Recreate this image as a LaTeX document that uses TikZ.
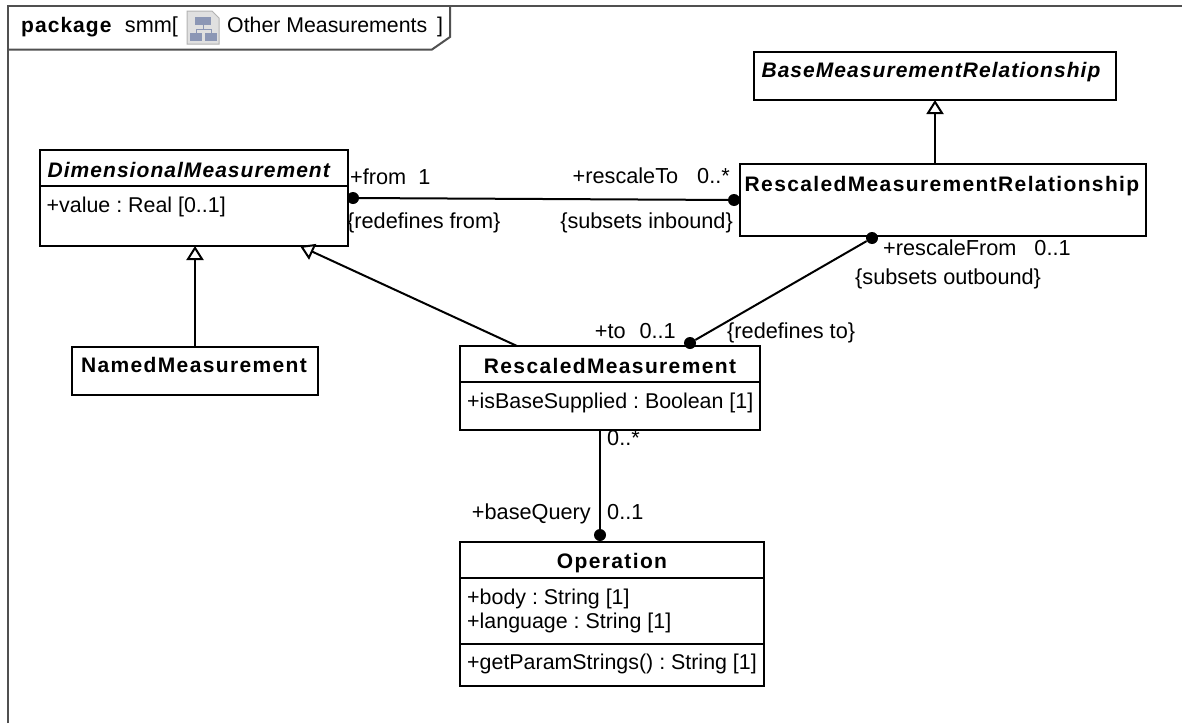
\documentclass[tikz,border=0pt]{standalone}
\usepackage{fontspec}
\setmainfont{Liberation Sans}
\newfontfamily\namefont[LetterSpace=6.5]{Liberation Sans}
\newfontfamily\absnamefont[LetterSpace=5]{Liberation Sans}
\usetikzlibrary{positioning,arrows.meta}
\frenchspacing

\definecolor{framegray}{HTML}{505050}
\definecolor{iconblue}{HTML}{8C97B5}

\tikzset{
  classbox/.style={draw, line width=2pt, inner sep=0pt, outer sep=0pt, fill=white},
  classname/.style={inner sep=0pt, text height=15pt, text depth=5pt, font=\fontsize{21}{24}\namefont\bfseries},
  absname/.style={classname, font=\fontsize{21}{24}\absnamefont\bfseries\itshape},
  membertext/.style={inner sep=0pt, align=left, font=\fontsize{21.4}{24}\selectfont},
  rolelabel/.style={inner sep=0pt, text height=15pt, text depth=5pt, font=\fontsize{21.7}{24}\selectfont},
  assocdot/.style={circle, fill=black, minimum size=12pt, inner sep=0pt},
  assocline/.style={line width=2pt},
  genline/.style={line width=2pt, -{Triangle[open, length=14pt, width=17pt, fill=white]}}
}

\begin{document}
\begin{tikzpicture}[x=1pt, y=-1pt]
  \useasboundingbox (0,0) rectangle (1182,723);

  % frame and tab
  \draw[framegray, line width=2pt] (8,723) -- (8,6) -- (1182,6);
  \draw[framegray, line width=2pt] (8,49.5) -- (432,49.5) -- (450,37) -- (450,6);
  \node[classname, anchor=west, font=\fontsize{21}{24}\absnamefont\bfseries] (Kind) at (21,27.5) {package};
  \node[rolelabel, right=13pt of Kind] (Smm) {smm[};
  \node[rolelabel, anchor=west, font=\fontsize{21.3}{24}\selectfont] (Title) at (227,27.5) {Other Measurements\hspace{10pt}]};

  % diagram icon
  \draw[fill=black!12, draw=black!30, line width=1pt] (187,11) -- (212,11) -- (219,18) -- (219,44) -- (187,44) -- cycle;
  \fill[iconblue] (195,17) rectangle (211,25);
  \fill[iconblue] (190,33) rectangle (202,41);
  \fill[iconblue] (205,33) rectangle (217,41);
  \draw[iconblue, line width=1pt] (203,25) -- (203,29) (196,33) -- (196,29) -- (211,29) -- (211,33);

  % classes
  \node[classbox, minimum width=362pt, minimum height=48pt, anchor=north west] (Base) at (754,52) {};
  \node[absname, below=10pt of Base.north, xshift=-4pt] (BaseName) {BaseMeasurementRelationship};

  \node[classbox, minimum width=406pt, minimum height=72pt, anchor=north west] (Rel) at (740,164) {};
  \node[classname, below=12pt of Rel.north, xshift=-1pt] (RelName) {RescaledMeasurementRelationship};

  \node[classbox, minimum width=308.5pt, minimum height=36pt, anchor=north west] (DimHead) at (39.5,150) {};
  \node[classbox, minimum width=308.5pt, minimum height=60pt, below=0pt of DimHead] (DimBody) {};
  \node[absname, below=12pt of DimHead.north, xshift=-5pt] (DimName) {DimensionalMeasurement};
  \node[membertext, below right=11pt and 7pt of DimBody.north west] (DimAttr) {+value : Real [0..1]};

  \node[classbox, minimum width=246pt, minimum height=48pt, anchor=north west] (Named) at (72,346.5) {};
  \node[classname, below=10.5pt of Named.north, xshift=-1pt] (NamedName) {NamedMeasurement};

  \node[classbox, minimum width=300pt, minimum height=36pt, anchor=north west] (ResHead) at (460,346) {};
  \node[classbox, minimum width=300pt, minimum height=48pt, below=0pt of ResHead] (ResBody) {};
  \node[classname, below=12pt of ResHead.north] (ResName) {RescaledMeasurement};
  \node[membertext, below right=11pt and 7pt of ResBody.north west] (ResAttr) {+isBaseSupplied : Boolean [1]};

  \node[classbox, minimum width=304pt, minimum height=36pt, anchor=north west] (OpHead) at (460,542) {};
  \node[classbox, minimum width=304pt, minimum height=66pt, below=0pt of OpHead] (OpBody) {};
  \node[classbox, minimum width=304pt, minimum height=42pt, below=0pt of OpBody] (OpOper) {};
  \node[classname, below=11pt of OpHead.north] (OpName) {Operation};
  \node[membertext, below right=11pt and 7pt of OpBody.north west] (OpAttr) {+body : String [1]\\+language : String [1]};
  \node[membertext, below right=10pt and 7pt of OpOper.north west] (OpMeth) {+getParamStrings() : String [1]};

  % association ends
  \node[assocdot] (FromDot) at (353,198) {};
  \node[assocdot] (RescaleToDot) at (734,200) {};
  \node[assocdot] (RescaleFromDot) at (872,238) {};
  \node[assocdot] (ToDot) at (690,343) {};
  \node[assocdot] (QueryDot) at (600,535) {};
  \coordinate (GenStart) at (517,346);
  \coordinate (GenTip) at (300,246);

  \draw[assocline] (FromDot) -- (RescaleToDot);
  \draw[assocline] (RescaleFromDot) -- (ToDot);
  \draw[assocline] (ResBody.south -| QueryDot) -- (QueryDot);
  \draw[genline] (Named.north) -- (Named.north |- DimBody.south);
  \draw[genline] (GenStart) -- (GenTip);
  \draw[genline] (Base.south |- Rel.north) -- (Base.south);

  % role labels
  \node[rolelabel, above right=8.7pt and -3pt of FromDot.center] (FromRole) {+from\hspace{12pt}1};
  \node[rolelabel, below right=15pt and -6pt of FromDot.center] (FromCon) {\{redefines from\}};
  \node[rolelabel, above left=11pt and 4pt of RescaleToDot.center] (RescaleToRole) {+rescaleTo\hspace{19pt}0..*};
  \node[rolelabel, below left=13pt and 1pt of RescaleToDot.center] (RescaleToCon) {\{subsets inbound\}};
  \node[rolelabel, below right=2pt and 11pt of RescaleFromDot.center] (RescaleFromRole) {+rescaleFrom\hspace{18pt}0..1};
  \node[rolelabel, below right=31pt and -17pt of RescaleFromDot.center] (RescaleFromCon) {\{subsets outbound\}};
  \node[rolelabel, above left=-1pt and 14pt of ToDot.center] (ToRole) {+to\hspace{14pt}0..1};
  \node[rolelabel, above right=-1pt and 37pt of ToDot.center] (ToCon) {\{redefines to\}};
  \node[rolelabel, above right=84pt and 7pt of QueryDot.center] (QueryMany) {0..*};
  \node[rolelabel, above left=10pt and 9pt of QueryDot.center] (QueryRole) {+baseQuery};
  \node[rolelabel, above right=10pt and 7pt of QueryDot.center] (QueryOne) {0..1};
\end{tikzpicture}
\end{document}
